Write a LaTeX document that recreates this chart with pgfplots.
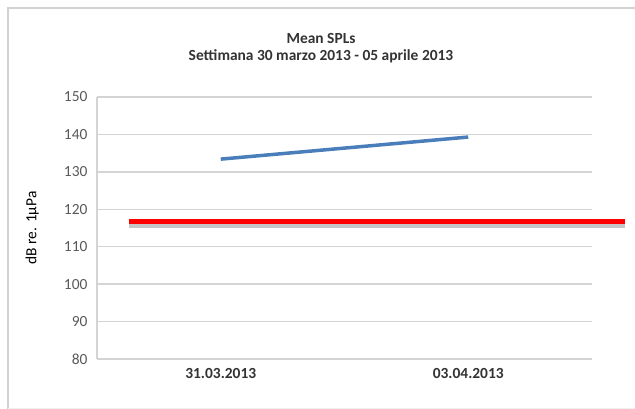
\documentclass[border=0pt]{standalone}
\usepackage{fontspec}
\setmainfont{Carlito}
\usepackage{pgfplots}
\pgfplotsset{compat=1.18}

\definecolor{lineblue}{HTML}{4A7EBB}
\definecolor{gridgray}{HTML}{D4D4D4}
\definecolor{ticktext}{HTML}{595959}
\definecolor{titletext}{HTML}{333333}

\begin{document}
\begin{tikzpicture}
    % page size and chart frame (only left and top edge show)
    \path[use as bounding box] (-97bp,-50bp) rectangle (538bp,359bp);
    \draw[gray!35, line width=2.5bp] (-89bp,-50bp) -- (-89bp,351bp) -- (538bp,351bp);
    \draw[gray!12, line width=1bp] (-89bp,-49bp) -- (538bp,-49bp);

    \begin{axis}[
        at={(0,0)}, anchor=south west,
        scale only axis,
        width=495bp, height=262bp,
        xmin=-0.5, xmax=1.5,
        ymin=80, ymax=150,
        xtick={0,1},
        xticklabels={31.03.2013,03.04.2013},
        ytick={80,90,...,150},
        ymajorgrids=true,
        grid style={gridgray, line width=1.5bp},
        axis lines*=left,
        axis line style={gridgray, line width=1.5bp},
        major tick length=0pt,
        clip=false,
        /pgf/number format/assume math mode=true,
        font=\fontsize{15.5}{18}\selectfont,
        xticklabel style={font=\fontsize{15.5}{18}\bfseries, text=titletext, yshift=-6bp},
        yticklabel style={text=ticktext, xshift=-6bp},
        ylabel={dB re. 1µPa},
        ylabel style={font=\fontsize{15.5}{18}\bfseries, text=titletext},
        every axis y label/.style={at={(axis description cs:-0.131,0.5)}, rotate=90, anchor=center},
    ]
        \addplot[lineblue, line width=3.5bp] coordinates {(0,133.4) (1,139.3)};
        \addplot[gray!45, line width=4.7bp] coordinates {(-0.371,115.5) (1.633,115.5)};
        \addplot[red, line width=4.7bp] coordinates {(-0.371,116.7) (1.633,116.7)};
    \end{axis}

    \node[align=center, text=titletext, font=\fontsize{15.5}{17.5}\bfseries\selectfont]
        at (224bp,311bp) {Mean SPLs\\Settimana 30 marzo 2013 - 05 aprile 2013};
\end{tikzpicture}
\end{document}
